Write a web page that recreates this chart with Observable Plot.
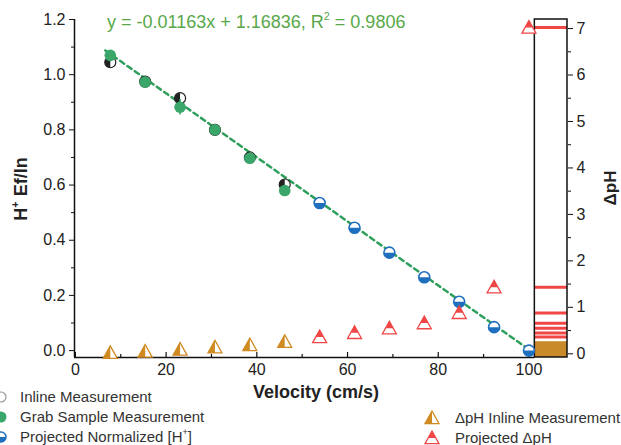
<!DOCTYPE html>
<html><head><meta charset="utf-8">
<script src="https://cdn.jsdelivr.net/npm/d3@7"></script>
<script src="https://cdn.jsdelivr.net/npm/@observablehq/plot@0.6"></script>
<style>
body{margin:0;background:#fff;}
#wrap{position:relative;width:621px;height:445px;overflow:hidden;font-family:"Liberation Sans",Arial,sans-serif;color:#222;}
#wrap svg{position:absolute;left:0;top:0;}
.lbl{position:absolute;white-space:nowrap;line-height:1;}
.lbl sup{font-size:0.6em;vertical-align:0.75em;line-height:0;}
</style></head><body><div id="wrap"></div>
<script>
// ---- data ----
const velocity = [7.69, 15.38, 23.08, 30.77, 38.46, 46.15];
const inlineH = [1.045, 0.975, 0.915, 0.80, 0.70, 0.602];
const grabH = [1.07, 0.973, 0.882, 0.80, 0.697, 0.58];
const grabErr = [0.008, 0.01, 0.028, 0.01, 0.012, 0.014];
const projVelocity = [53.85, 61.54, 69.23, 76.92, 84.62, 92.31, 100];
const projH = [0.535, 0.445, 0.355, 0.266, 0.177, 0.085, 0.0];
const inlinePH = [0.02, 0.05, 0.09, 0.14, 0.19, 0.26];
const projPH = [0.36, 0.45, 0.55, 0.66, 0.88, 1.43, 7.02];
const fitX = [6.6, 100];
const fitY = [1.088, 0.004];
const xTicks = [0, 20, 40, 60, 80, 100];
const xMinor = [10, 30, 50, 70, 90];
const yTicks = [0, 0.2, 0.4, 0.6, 0.8, 1.0, 1.2];
const yMinor = [0.1, 0.3, 0.5, 0.7, 0.9, 1.1];
const pHTicks = [0, 1, 2, 3, 4, 5, 6, 7];
const pHMinor = [0.5, 1.5, 2.5, 3.5, 4.5, 5.5, 6.5];

// ---- layout constants ----
const xDom = [-0.2, 108.5], yDom = [-0.025, 1.2];
const xAxisEnd = 101.3;            // end of main x axis / start of strip
const pHToY = d => -0.0116 + d * 0.1684;   // ΔpH -> left-axis units (dual axis)
const yToPH = y => (y + 0.0116) / 0.1684;

const C = {green: "#3aa66a", fit: "#2f9f5c", eq: "#58a84a", blue: "#1f6fbf",
  orange: "#cf8a22", red: "#f04646", brown: "#c98b2a", ink: "#111"};

// custom symbols
const R = s => Math.sqrt(s / Math.PI);
const circleLeft = {draw(c, s){const r = R(s); c.moveTo(0, -r); c.arc(0, 0, r, -Math.PI/2, Math.PI/2, true); c.closePath();}};
const circleBottom = {draw(c, s){const r = R(s); c.moveTo(r, 0); c.arc(0, 0, r, 0, Math.PI); c.closePath();}};
const triFull = {draw(c, s){const r = R(s); c.moveTo(0, -r); c.lineTo(r, 0.8*r); c.lineTo(-r, 0.8*r); c.closePath();}};
const triLeft = {draw(c, s){const r = R(s); c.moveTo(0, -r); c.lineTo(0, 0.8*r); c.lineTo(-r, 0.8*r); c.closePath();}};
const triTop = {draw(c, s){const r = R(s); const m = -r + 1.8*r*0.55; const w = r*0.55; c.moveTo(0, -r); c.lineTo(w, m); c.lineTo(-w, m); c.closePath();}};

const inlineData = velocity.map((v, i) => ({x: v, y: inlineH[i]}));
const grabData = velocity.map((v, i) => ({x: v, y: grabH[i], e: grabErr[i]}));
const projData = projVelocity.map((v, i) => ({x: v, y: projH[i]}));
const inlinePHData = velocity.map((v, i) => ({x: v, y: pHToY(inlinePH[i])}));
const projPHData = projVelocity.map((v, i) => ({x: v, y: pHToY(projPH[i])}));
const fitData = fitX.map((x, i) => ({x, y: fitY[i]}));

const tickLen = px => px / 338 * (yDom[1] - yDom[0]);

const chart = Plot.plot({
  width: 621, height: 445,
  marginLeft: 74, marginRight: 54, marginTop: 19, marginBottom: 88,
  x: {domain: xDom}, y: {domain: yDom},
  style: {fontFamily: '"Liberation Sans", Arial, sans-serif', fontSize: "16px", color: "#222", background: "transparent", overflow: "visible"},
  marks: [
    // strip
    Plot.rect([0], {x1: xAxisEnd, x2: xDom[1], y1: yDom[0], y2: yDom[1], fill: "white"}),
    Plot.rect([0], {x1: xAxisEnd, x2: xDom[1], y1: yDom[0], y2: pHToY(d3.max(inlinePH)), fill: C.brown}),
    Plot.ruleY(projPH, {y: d => pHToY(d), x1: xAxisEnd, x2: xDom[1], stroke: C.red, strokeWidth: 3}),
    Plot.rect([0], {x1: xAxisEnd, x2: xDom[1], y1: yDom[0], y2: yDom[1], fill: "none", stroke: C.ink, strokeWidth: 1.5}),
    // axis lines
    Plot.ruleX([xDom[0]], {y1: yDom[0], y2: yDom[1], stroke: C.ink, strokeWidth: 1.5}),
    Plot.ruleY([yDom[0]], {x1: xDom[0], x2: xAxisEnd, stroke: C.ink, strokeWidth: 1.5}),
    // left axis
    Plot.axisY(yTicks, {anchor: "left", tickSize: 5, tickPadding: 4, tickFormat: d => d.toFixed(1), label: null, stroke: C.ink}),
    Plot.axisY(yMinor, {anchor: "left", tickSize: 3, tickFormat: () => "", label: null, stroke: C.ink}),
    // bottom axis (ticks inward)
    Plot.axisX(xTicks, {anchor: "bottom", tickSize: 0, tickPadding: 6, label: null}),
    Plot.ruleX(xTicks, {x: d => d, y1: yDom[0], y2: yDom[0] + tickLen(5), stroke: C.ink, strokeWidth: 1.2}),
    Plot.ruleX(xMinor, {x: d => d, y1: yDom[0], y2: yDom[0] + tickLen(3), stroke: C.ink, strokeWidth: 1.2}),
    // right axis (ΔpH)
    Plot.axisY(pHTicks.map(pHToY), {anchor: "right", tickSize: 5, tickPadding: 4, tickFormat: d => Math.round(yToPH(d)), label: null, stroke: C.ink}),
    Plot.axisY(pHMinor.map(pHToY), {anchor: "right", tickSize: 3, tickFormat: () => "", label: null, stroke: C.ink}),
    // fit line
    Plot.line(fitData, {x: "x", y: "y", stroke: C.fit, strokeWidth: 2.5, strokeDasharray: "5,4"}),
    // inline measurement
    Plot.dot(inlineData, {x: "x", y: "y", r: 5.5, fill: "white", stroke: "#222", strokeWidth: 1.2}),
    Plot.dot(inlineData, {x: "x", y: "y", r: 5.5, symbol: circleLeft, fill: "#222"}),
    // grab sample
    Plot.ruleX(grabData, {x: "x", y1: d => d.y - d.e, y2: d => d.y + d.e, stroke: C.green, strokeWidth: 1.5}),
    Plot.dot(grabData, {x: "x", y: "y", r: 5.8, fill: C.green}),
    // projected normalized
    Plot.dot(projData, {x: "x", y: "y", r: 5.5, fill: "white", stroke: C.blue, strokeWidth: 1.6}),
    Plot.dot(projData, {x: "x", y: "y", r: 5.5, symbol: circleBottom, fill: C.blue}),
    // ΔpH inline
    Plot.dot(inlinePHData, {x: "x", y: "y", r: 7, symbol: triFull, fill: "white", stroke: C.orange, strokeWidth: 1.3}),
    Plot.dot(inlinePHData, {x: "x", y: "y", r: 7, symbol: triLeft, fill: C.orange}),
    // projected ΔpH
    Plot.dot(projPHData, {x: "x", y: "y", r: 7, symbol: triFull, fill: "white", stroke: C.red, strokeWidth: 1.3}),
    Plot.dot(projPHData, {x: "x", y: "y", r: 7, symbol: triTop, fill: C.red})
  ]
});
const wrap = document.getElementById("wrap");
wrap.appendChild(chart);

function label(html, css){
  const d = document.createElement("div");
  d.className = "lbl"; d.innerHTML = html; d.style.cssText += css; wrap.appendChild(d); return d;
}
label('y = -0.01163x + 1.16836, R<sup>2</sup> = 0.9806', `left:107px;top:12.8px;font-size:18px;color:${C.eq};`);
label('Velocity (cm/s)', 'left:316px;top:382.8px;font-size:18px;font-weight:bold;transform:translateX(-50%);');
label('H<sup>+</sup> Ef/In', 'left:20.8px;top:189px;font-size:18px;font-weight:bold;transform:translate(-50%,-50%) rotate(-90deg);');
label('ΔpH', 'left:609.5px;top:188px;font-size:17px;font-weight:bold;transform:translate(-50%,-50%) rotate(-90deg);');

// legend
const legendLeft = ["Inline Measurement", "Grab Sample Measurement", "Projected Normalized [H<sup>+</sup>]"];
const legendRight = ["ΔpH Inline Measurement", "Projected ΔpH"];
legendLeft.forEach((t, i) => label(t, `left:20px;top:${389.3 + i*20}px;font-size:15px;color:#333;`));
legendRight.forEach((t, i) => label(t, `left:455px;top:${409.8 + i*20}px;font-size:15px;color:#333;`));
const lg = d3.create("svg").attr("width", 621).attr("height", 445).style("pointer-events", "none");
const sym = (s, r) => d3.symbol(s, r*r*Math.PI)();
lg.append("circle").attr("cx", 1).attr("cy", 397).attr("r", 5).attr("fill", "white").attr("stroke", "#999").attr("stroke-width", 1.2);
lg.append("circle").attr("cx", 1).attr("cy", 417).attr("r", 5.5).attr("fill", C.green);
lg.append("circle").attr("cx", 1).attr("cy", 437).attr("r", 5).attr("fill", "white").attr("stroke", C.blue).attr("stroke-width", 1.5);
lg.append("path").attr("transform", "translate(1,437)").attr("d", sym(circleBottom, 5)).attr("fill", C.blue);
lg.append("path").attr("transform", "translate(432,418)").attr("d", sym(triFull, 7)).attr("fill", "white").attr("stroke", C.orange).attr("stroke-width", 1.3);
lg.append("path").attr("transform", "translate(432,418)").attr("d", sym(triLeft, 7)).attr("fill", C.orange);
lg.append("path").attr("transform", "translate(432,438)").attr("d", sym(triFull, 7)).attr("fill", "white").attr("stroke", C.red).attr("stroke-width", 1.3);
lg.append("path").attr("transform", "translate(432,438)").attr("d", sym(triTop, 7)).attr("fill", C.red);
wrap.appendChild(lg.node());
</script></body></html>
